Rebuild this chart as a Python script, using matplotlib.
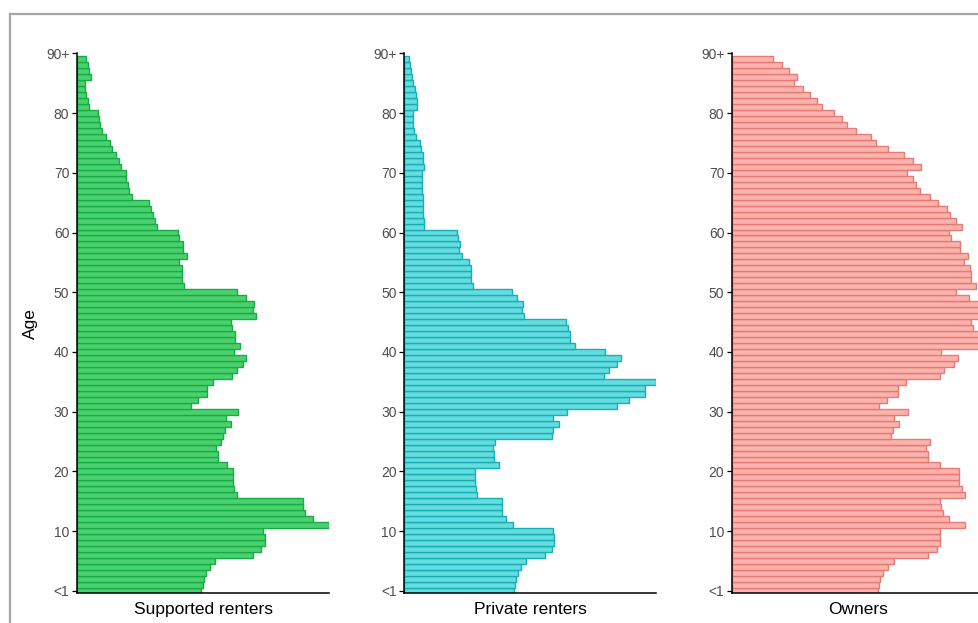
import matplotlib
matplotlib.use('Agg')
import matplotlib.pyplot as plt
from matplotlib.lines import Line2D
import numpy as np

plt.rcParams['font.family'] = ['Liberation Sans', 'DejaVu Sans']

# single years of age, youngest first (0 = "<1", top bar is the oldest group)
ages = list(range(90))

supported = [373, 377, 380, 387, 397, 413, 527, 552, 562, 562,
             558, 755, 707, 683, 678, 678, 480, 470, 467, 467,
             467, 448, 423, 423, 415, 430, 438, 442, 460, 445,
             482, 343, 362, 388, 388, 408, 465, 478, 498, 507,
             470, 487, 473, 473, 465, 460, 535, 527, 530, 505,
             478, 322, 315, 315, 315, 307, 330, 318, 318, 305,
             303, 240, 233, 227, 222, 215, 165, 157, 152, 148,
             146, 132, 125, 118, 105, 98, 86, 75, 70, 67,
             62, 35, 32, 28, 25, 23, 43, 37, 33, 28]

private = [329, 332, 335, 340, 350, 364, 422, 442, 450, 450,
           447, 325, 304, 294, 292, 292, 219, 215, 212, 212,
           212, 285, 269, 269, 267, 272, 444, 447, 464, 447,
           487, 637, 672, 720, 720, 755, 597, 612, 637, 649,
           602, 512, 497, 497, 490, 485, 359, 354, 357, 339,
           322, 205, 199, 199, 199, 195, 172, 165, 167, 162,
           159, 60, 60, 57, 57, 57, 57, 54, 52, 52,
           52, 60, 57, 55, 50, 47, 35, 29, 27, 25,
           25, 39, 39, 35, 32, 27, 22, 20, 17, 14]

owners = [437, 441, 444, 451, 466, 484, 586, 614, 624, 624,
          622, 697, 651, 631, 626, 624, 697, 689, 681, 681,
          679, 622, 587, 587, 581, 594, 477, 482, 501, 486,
          526, 439, 464, 497, 497, 522, 624, 636, 666, 676,
          626, 755, 748, 739, 722, 717, 750, 742, 752, 711,
          672, 731, 717, 717, 714, 696, 706, 684, 684, 656,
          649, 689, 671, 654, 644, 617, 594, 564, 551, 542,
          524, 567, 542, 514, 466, 432, 417, 371, 344, 331,
          307, 271, 254, 234, 212, 187, 194, 171, 149, 124]

tenures = ['Supported renters', 'Private renters', 'Owners']
fills = ['#4cd06f', '#66dcdf', '#fbb3ae']
edges = ['#14ad43', '#14b0b6', '#e67a74']
tick_pos = [0, 10, 20, 30, 40, 50, 60, 70, 80, 90]
tick_lab = ['<1', '10', '20', '30', '40', '50', '60', '70', '80', '90+']

fig = plt.figure(figsize=(9.79, 6.23), dpi=100)

# grey frame of the original screenshot
fig.add_artist(Line2D([9.5/979, 9.5/979], [0, 1 - 13.5/623], color='#a6a6a6', lw=1.6))
fig.add_artist(Line2D([9.5/979, 1], [1 - 13.5/623, 1 - 13.5/623], color='#a6a6a6', lw=1.6))

lefts = [77/979, 404.3/979, 732/979]
bottom = 29.7/623
height = 540/623
width = 252/979

for i, vals in enumerate([supported, private, owners]):
    ax = fig.add_axes([lefts[i], bottom, width, height])
    ax.barh(ages, vals, height=1.0, color=fills[i], edgecolor=edges[i], linewidth=1.0)
    ax.set_xlim(0, max(vals))
    ax.set_ylim(-0.4, 90)
    ax.set_yticks(tick_pos)
    ax.set_yticklabels(tick_lab)
    ax.set_xticks([])
    ax.tick_params(axis='y', length=3.5, width=0.9, pad=2, labelsize=10, labelcolor='#4d4d4d')
    ax.spines['top'].set_visible(False)
    ax.spines['right'].set_visible(False)
    ax.spines['left'].set_linewidth(1.1)
    ax.spines['bottom'].set_linewidth(1.1)
    ax.set_xlabel(tenures[i], fontsize=12.5, labelpad=6.5)
    if i == 0:
        ax.set_ylabel('Age', fontsize=12.5, labelpad=6)

fig.savefig('out.png', dpi=100)
